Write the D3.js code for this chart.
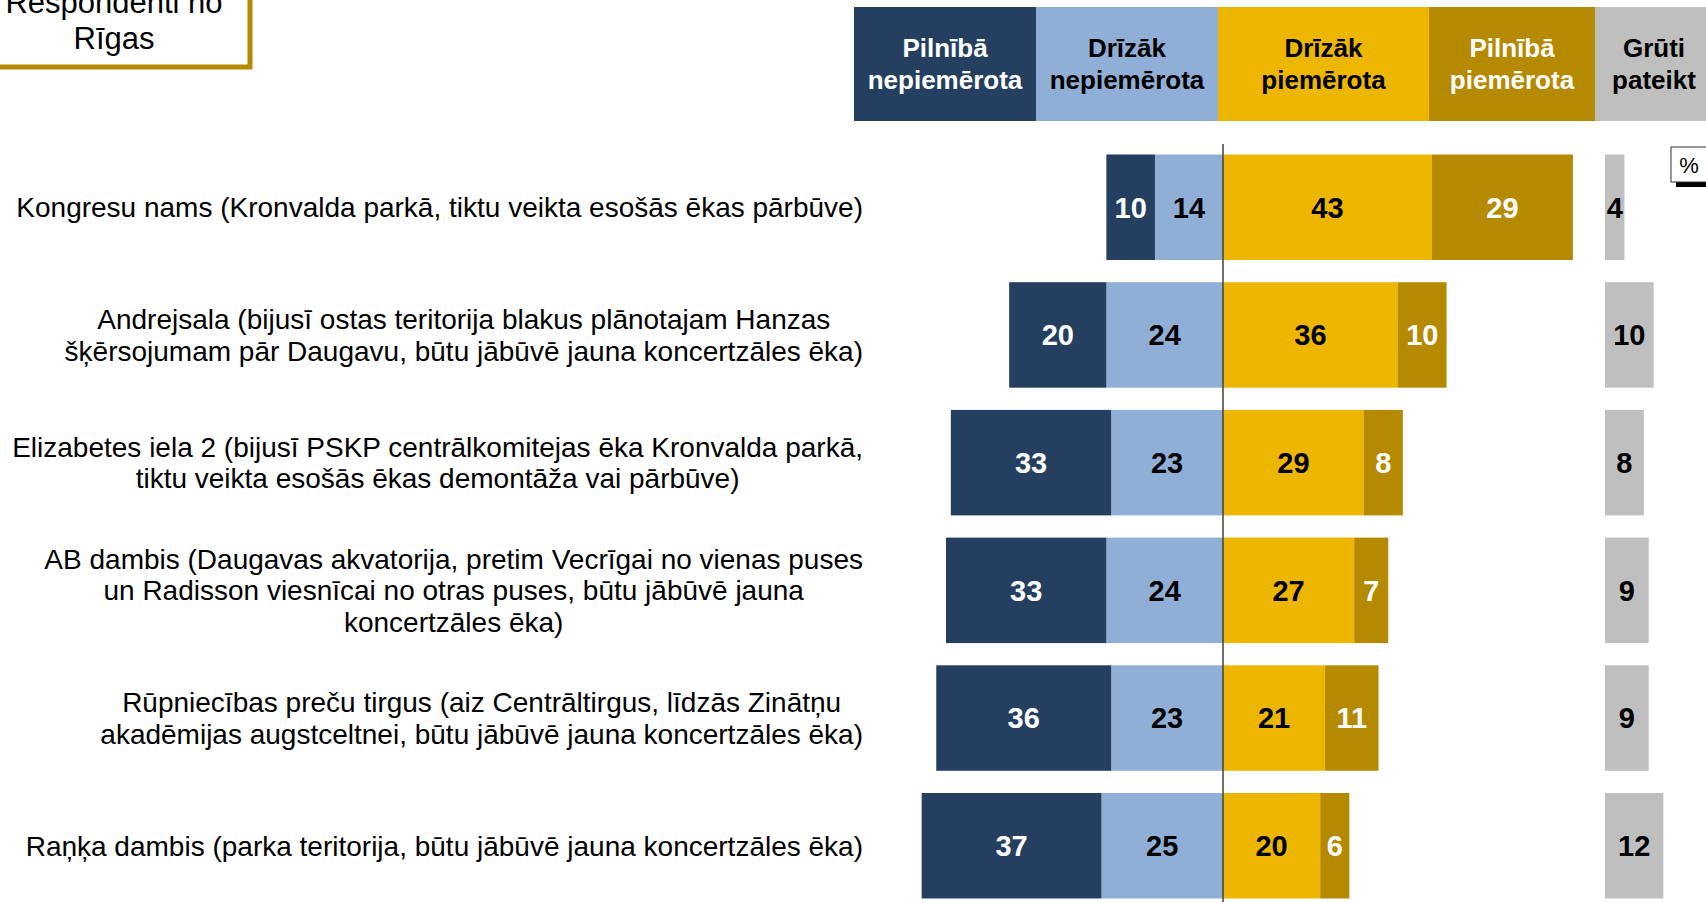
<!DOCTYPE html>
<html>
<head>
<meta charset="utf-8">
<script src="https://cdn.jsdelivr.net/npm/d3@7"></script>
<style>
  body { margin: 0; background: #fff; }
  svg { display: block; font-family: 'Liberation Sans', Arial, sans-serif; }
</style>
</head>
<body>
<div class="chartWrap"></div>
<script>
var width = 1706,
  height = 902,
  centerX = 1223,
  unitPx = 4.86,
  colors = ['#253f61', '#8fafd6', '#edb600', '#b58900', '#bfbfbf'],
  textColors = ['#fff', '#000', '#000', '#fff', '#000'];

// categories (label lines as shown)
var categories = [
  ['Kongresu nams (Kronvalda parkā, tiktu veikta esošās ēkas pārbūve)'],
  ['Andrejsala (bijusī ostas teritorija blakus plānotajam Hanzas', 'šķērsojumam pār Daugavu, būtu jābūvē jauna koncertzāles ēka)'],
  ['Elizabetes iela 2 (bijusī PSKP centrālkomitejas ēka Kronvalda parkā,', 'tiktu veikta esošās ēkas demontāža vai pārbūve)'],
  ['AB dambis (Daugavas akvatorija, pretim Vecrīgai no vienas puses', 'un Radisson viesnīcai no otras puses, būtu jābūvē jauna', 'koncertzāles ēka)'],
  ['Rūpniecības preču tirgus (aiz Centrāltirgus, līdzās Zinātņu', 'akadēmijas augstceltnei, būtu jābūvē jauna koncertzāles ēka)'],
  ['Raņķa dambis (parka teritorija, būtu jābūvē jauna koncertzāles ēka)']
];

// series values, %
var pilnibaNepiemerota = [10, 20, 33, 33, 36, 37];
var drizakNepiemerota = [14, 24, 23, 24, 23, 25];
var drizakPiemerota = [43, 36, 29, 27, 21, 20];
var pilnibaPiemerota = [29, 10, 8, 7, 11, 6];
var grutiPateikt = [4, 10, 8, 9, 9, 12];

var legendNames = [
  ['Pilnībā', 'nepiemērota'],
  ['Drīzāk', 'nepiemērota'],
  ['Drīzāk', 'piemērota'],
  ['Pilnībā', 'piemērota'],
  ['Grūti', 'pateikt']
];

var titleLines = ['Respondenti no', 'Rīgas'];

var svg =
  d3.select('.chartWrap')
    .append('svg')
    .attr('width', width)
    .attr('height', height);

var x = d3.scaleLinear()
  .domain([-60, 75])
  .range([centerX - 60 * unitPx, centerX + 75 * unitPx]);

var xGray = d3.scaleLinear()
  .domain([0, 20])
  .range([1605, 1605 + 20 * unitPx]);

var y = d3.scaleBand()
  .domain(d3.range(categories.length))
  .range([143.4, 909.6])
  .paddingInner(0.174)
  .paddingOuter(0.087);

// build segments per row
var segments = [];
categories.forEach(function(c, i){
  var lb = drizakNepiemerota[i], db = pilnibaNepiemerota[i],
    ly = drizakPiemerota[i], gy = pilnibaPiemerota[i];
  segments.push({row:i, s:1, v:lb, x0:-lb, x1:0});
  segments.push({row:i, s:0, v:db, x0:-(lb + db), x1:-lb});
  segments.push({row:i, s:2, v:ly, x0:0, x1:ly});
  segments.push({row:i, s:3, v:gy, x0:ly, x1:ly + gy});
});

//title box (runs off the top left like the original slide)
svg.append('rect')
  .attr('x', -10)
  .attr('y', -10)
  .attr('width', 260)
  .attr('height', 77)
  .style('fill', '#fff')
  .style('stroke', '#b58900')
  .style('stroke-width', 5);

svg.selectAll('.titleText')
  .data(titleLines)
  .enter()
    .append('text')
    .attr('class', 'titleText')
    .attr('x', 114)
    .attr('y', function(d, i){ return 13 + i * 36; })
    .attr('text-anchor', 'middle')
    .style('font-size', '31px')
    .style('fill', '#000')
    .text(function(d){ return d; });

//legend header
var headerEdges = [854, 1036, 1218, 1429, 1595, 1720];
var header = svg.selectAll('.header')
  .data(legendNames)
  .enter()
    .append('g')
    .attr('class', 'header');

header.append('rect')
  .attr('x', function(d, i){ return headerEdges[i]; })
  .attr('y', 7)
  .attr('width', function(d, i){ return headerEdges[i + 1] - headerEdges[i]; })
  .attr('height', 114)
  .style('fill', function(d, i){ return colors[i]; });

header.each(function(d, i){
  var cx = i === 4 ? 1654 : (headerEdges[i] + headerEdges[i + 1]) / 2;
  d3.select(this).selectAll('text')
    .data(d)
    .enter()
      .append('text')
      .attr('x', cx)
      .attr('y', function(t, j){ return 57 + j * 32; })
      .attr('text-anchor', 'middle')
      .style('font-size', '26px')
      .style('font-weight', 'bold')
      .style('fill', textColors[i])
      .text(function(t){ return t; });
});

//bars
svg.selectAll('.seg')
  .data(segments)
  .enter()
    .append('rect')
    .attr('class', 'seg')
    .attr('x', function(d){ return x(d.x0); })
    .attr('y', function(d){ return y(d.row); })
    .attr('width', function(d){ return x(d.x1) - x(d.x0); })
    .attr('height', y.bandwidth())
    .style('fill', function(d){ return colors[d.s]; });

svg.selectAll('.segLabel')
  .data(segments)
  .enter()
    .append('text')
    .attr('class', 'segLabel')
    .attr('x', function(d){ return (x(d.x0) + x(d.x1)) / 2; })
    .attr('y', function(d){ return y(d.row) + y.bandwidth() / 2; })
    .attr('dy', '0.36em')
    .attr('text-anchor', 'middle')
    .style('font-size', '29px')
    .style('font-weight', 'bold')
    .style('fill', function(d){ return textColors[d.s]; })
    .text(function(d){ return d.v; });

//gray bars
svg.selectAll('.gray')
  .data(grutiPateikt)
  .enter()
    .append('rect')
    .attr('class', 'gray')
    .attr('x', xGray(0))
    .attr('y', function(d, i){ return y(i); })
    .attr('width', function(d){ return xGray(d) - xGray(0); })
    .attr('height', y.bandwidth())
    .style('fill', colors[4]);

svg.selectAll('.grayLabel')
  .data(grutiPateikt)
  .enter()
    .append('text')
    .attr('class', 'grayLabel')
    .attr('x', function(d){ return (xGray(0) + xGray(d)) / 2; })
    .attr('y', function(d, i){ return y(i) + y.bandwidth() / 2; })
    .attr('dy', '0.36em')
    .attr('text-anchor', 'middle')
    .style('font-size', '29px')
    .style('font-weight', 'bold')
    .style('fill', '#000')
    .text(function(d){ return d; });

//center line
svg.append('line')
  .attr('x1', x(0))
  .attr('x2', x(0))
  .attr('y1', 144)
  .attr('y2', height)
  .style('stroke', '#404040')
  .style('stroke-width', 1.5);

//category labels, lines centred, block right aligned
var labelRight = 863,
  lineH = 31.6;
svg.selectAll('.catLabel')
  .data(categories)
  .enter()
    .append('g')
    .attr('class', 'catLabel')
    .each(function(lines, i){
      var g = d3.select(this);
      var mid = y(i) + y.bandwidth() / 2;
      var txt = g.selectAll('text')
        .data(lines)
        .enter()
          .append('text')
          .attr('y', function(t, j){ return mid + (j - (lines.length - 1) / 2) * lineH; })
          .attr('dy', '0.35em')
          .attr('text-anchor', 'middle')
          .style('font-size', '28px')
          .style('fill', '#000')
          .text(function(t){ return t; });
      var maxW = 0;
      txt.each(function(){ maxW = Math.max(maxW, this.getComputedTextLength()); });
      txt.attr('x', labelRight - maxW / 2);
    });

//percent box
svg.append('rect')
  .attr('x', 1676)
  .attr('y', 182)
  .attr('width', 40)
  .attr('height', 5)
  .style('fill', '#000');
svg.append('rect')
  .attr('x', 1671)
  .attr('y', 147)
  .attr('width', 45)
  .attr('height', 35)
  .style('fill', '#fff')
  .style('stroke', '#333')
  .style('stroke-width', 1);
svg.append('text')
  .attr('x', 1689)
  .attr('y', 173)
  .attr('text-anchor', 'middle')
  .style('font-size', '22px')
  .style('fill', '#000')
  .text('%');
</script>
</body>
</html>
